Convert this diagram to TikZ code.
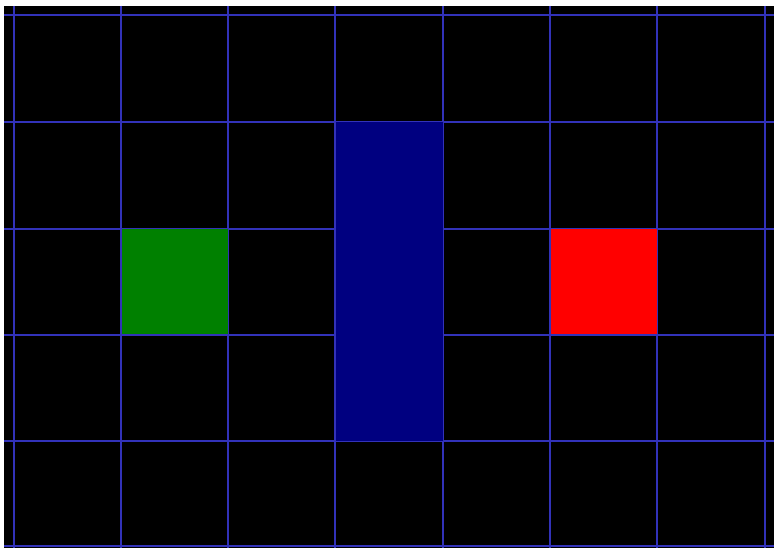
\documentclass[tikz,border=0pt]{standalone}
\definecolor{gridline}{RGB}{50,50,185}
\definecolor{cellgreen}{RGB}{0,128,0}
\definecolor{cellblue}{RGB}{0,0,128}
\definecolor{cellred}{RGB}{255,0,0}
\tikzset{
  gridstroke/.style={draw=gridline, line width=1.1pt}
}
\begin{document}
\begin{tikzpicture}[x=1pt,y=-1pt]
\useasboundingbox (0,0) rectangle (774,548);
\fill[white] (0,0) rectangle (774,548);
\fill[black] (4,6) rectangle (774,548);
% grid
\foreach \gx in {14,121,228,335,443,550,657,765} {
  \draw[gridstroke] (\gx,6) -- (\gx,548);
}
\foreach \gy in {15,122,229,335,441,546} {
  \draw[gridstroke] (4,\gy) -- (774,\gy);
}
% filled cells
\fill[cellgreen] (122,229.5) rectangle (228,334);
\fill[cellblue] (335.5,122.5) rectangle (443,440.5);
\fill[cellred] (550.5,229.5) rectangle (657,334);
\end{tikzpicture}
\end{document}
